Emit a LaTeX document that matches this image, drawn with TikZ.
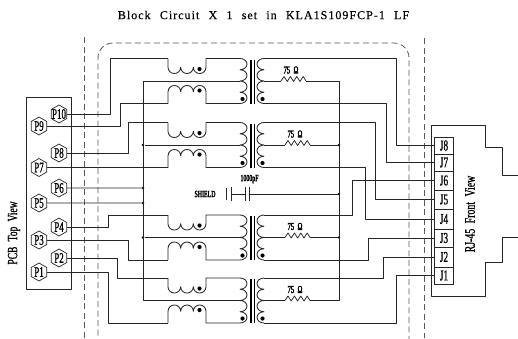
\documentclass[tikz,border=0pt]{standalone}
\usepackage{fontspec}
\setmainfont{Liberation Serif}
\newfontfamily\cadfont[FakeStretch=0.62,FakeBold=0.8]{Liberation Serif}
\newfontfamily\sidefont[FakeStretch=0.68,FakeBold=0.8,WordSpace=2.2]{Liberation Serif}
\newfontfamily\cadbold[FakeStretch=0.62,FakeBold=2.5]{Liberation Serif}
\newfontfamily\titlefont[LetterSpace=8.5,WordSpace=2.3,FakeBold=0.4]{Liberation Serif}
\usetikzlibrary{shapes}

\tikzset{
  wire/.style={draw=black!85,line width=0.85pt,line join=round},
  pad/.style={regular polygon,regular polygon sides=6,shape border rotate=30,draw=black!85,
              line width=0.7pt,inner sep=-3pt,minimum size=18pt,font=\cadfont\fontsize{14.5}{15}\selectfont},
  jack/.style={draw=black!85,line width=0.85pt,inner sep=0pt,minimum width=18.5pt,font=\cadfont\fontsize{15}{15}\selectfont},
  dot/.style={circle,fill=black,inner sep=0pt,minimum size=2.6pt},
  blob/.style={circle,fill=black,inner sep=0pt,minimum size=4.2pt},
  fence/.style={draw=black!65,line width=0.85pt,dash pattern=on 6pt off 3.5pt},
  xfmr/.pic={
    \draw[wire] (0,0) -- (0,8.7) arc (180:0:6.33) arc (180:0:6.33) arc (180:0:6.33) -- (38,0) -- (72,0)
      arc [start angle=-90,end angle=90,x radius=7,y radius=5.625]
      arc [start angle=-90,end angle=90,x radius=7,y radius=5.625]
      arc [start angle=-90,end angle=90,x radius=7,y radius=5.625]
      arc [start angle=-90,end angle=90,x radius=7,y radius=5.625] -- (38,45) -- (38,33.3)
      arc (360:180:6.33) arc (360:180:6.33) arc (360:180:6.33) -- (0,45);
    \draw[wire] (96,0)
      arc [start angle=270,end angle=90,x radius=7,y radius=5.625]
      arc [start angle=270,end angle=90,x radius=7,y radius=5.625]
      arc [start angle=270,end angle=90,x radius=7,y radius=5.625]
      arc [start angle=270,end angle=90,x radius=7,y radius=5.625];
    \draw[line width=1.5pt] (83,1) -- (83,45) (86.5,1) -- (86.5,45);
    \node[blob] (-d1) at (31.5,10.5) {};
    \node[blob] (-d2) at (31.5,32) {};
    \node[blob] (-d3) at (74.5,40.5) {};
    \node[blob] (-d4) at (94.5,40.5) {};
    \coordinate (-pa) at (0,0);
    \coordinate (-pb) at (0,45);
    \coordinate (-ct) at (72,22.5);
    \coordinate (-st) at (96,22.5);
    \coordinate (-sa) at (96,0);
    \coordinate (-sb) at (96,45);
  },
  ohms/.pic={
    \draw[wire,line width=0.75pt] (0,0) -- (3,-4.5) -- (6.2,0.5) -- (9.4,-4.5) -- (12.6,0.5)
      -- (15.8,-4.5) -- (19,0.5) -- (22.2,-4.5) -- (25,0);
    \node[font=\cadbold\fontsize{10.5}{11}\selectfont] (-val) at (10,-11) {75\,\,Ω};
    \coordinate (-a) at (0,0);
    \coordinate (-b) at (25,0);
  },
}

\begin{document}
\begin{tikzpicture}[x=1pt,y=-1pt]
  \useasboundingbox (0,0) rectangle (518,338);
  \clip (0,0) rectangle (518,338);

  \node (title) at (263.5,15) {\titlefont\fontsize{12}{12}\selectfont Block Circuit X 1 set in KLA1S109FCP-1 LF};

  \draw[fence] (84,37) -- (84,338);
  \draw[fence] (424,38) -- (424,338);
  \draw[fence,rounded corners=15pt] (98,345) -- (98,43) -- (409,43) -- (409,345);

  \draw[wire] (26,97) rectangle (71.5,289);
  \node[rotate=90,font=\sidefont\fontsize{14}{14}\selectfont] (pcb) at (14,233) {PCB Top View};

  \node[pad] (p10) at (59,114)   {P10};
  \node[pad] (p9)  at (39,126)   {P9};
  \node[pad] (p8)  at (59,153)   {P8};
  \node[pad] (p7)  at (39,167.5) {P7};
  \node[pad] (p6)  at (59,188)   {P6};
  \node[pad] (p5)  at (39,203)   {P5};
  \node[pad] (p4)  at (59,227)   {P4};
  \node[pad] (p3)  at (39,240)   {P3};
  \node[pad] (p2)  at (59,258)   {P2};
  \node[pad] (p1)  at (39,272)   {P1};

  \draw[wire] (518,175.5) -- (502,175.5) -- (502,147) -- (485.5,147) -- (485.5,125) -- (431,125) -- (431,296)
              -- (485.5,296) -- (485.5,262.5) -- (502,262.5) -- (502,237) -- (518,237);
  \node[rotate=90,font=\sidefont\fontsize{14.5}{15}\selectfont] (rjview) at (470,214) {RJ-45 Front View};

  \node[jack,minimum height=17pt] (j8) at (444,145.5) {J8};
  \node[jack,minimum height=17pt] (j7) at (444,162.5) {J7};
  \node[jack,minimum height=19pt] (j6) at (444,180.5) {J6};
  \node[jack,minimum height=19pt] (j5) at (444,199.5) {J5};
  \node[jack,minimum height=20pt] (j4) at (444,219)   {J4};
  \node[jack,minimum height=18pt] (j3) at (444,238)   {J3};
  \node[jack,minimum height=20pt] (j2) at (444,257)   {J2};
  \node[jack,minimum height=17pt] (j1) at (444,275.5) {J1};

  \pic (t1) at (168,58.5) {xfmr};
  \pic (t2) at (168,122.5) {xfmr};
  \pic (t3) at (168,215) {xfmr};
  \pic (t4) at (168,278) {xfmr};

  \pic (r1) at (281,81) {ohms};
  \pic (r2) at (285,145) {ohms};
  \pic (r3) at (285,237.5) {ohms};
  \pic (r4) at (285,300.5) {ohms};

  \node[dot] (d1) at (143,145)   {};
  \node[dot] (d2) at (143,188)   {};
  \node[dot] (d3) at (143,203)   {};
  \node[dot] (d4) at (143,237.5) {};
  \node[dot] (e1) at (339,145)   {};
  \node[dot] (e2) at (339,194)   {};
  \node[dot] (e3) at (339,237.5) {};

  \draw[wire] (p10) -| (110,58.5) -- (t1-pa);
  \draw[wire] (p9)  -| (120,103.5) -- (t1-pb);
  \draw[wire] (p8)  -| (128,122.5) -- (t2-pa);
  \draw[wire] (p7)  -- (t2-pb);
  \draw[wire] (p6)  -- (d2);
  \draw[wire] (p5)  -- (d3);
  \draw[wire] (p4)  -| (108,215) -- (t3-pa);
  \draw[wire] (p3)  -| (128,260) -- (t3-pb);
  \draw[wire] (p2)  -| (117,278) -- (t4-pa);
  \draw[wire] (p1)  -| (108,323) -- (t4-pb);

  \draw[wire] (t1-ct) -| (143,300.5) -- (t4-ct);
  \draw[wire] (t2-ct) -- (d1);
  \draw[wire] (t3-ct) -- (d4);

  \draw[wire] (t1-st) -- (r1-a);
  \draw[wire] (t2-st) -- (r2-a);
  \draw[wire] (t3-st) -- (r3-a);
  \draw[wire] (t4-st) -- (r4-a);
  \draw[wire] (r1-b) -| (339,300.5) -- (r4-b);
  \draw[wire] (r2-b) -- (e1);
  \draw[wire] (r3-b) -- (e3);

  \draw[wire] (t1-sa) -| (396,145.5) -- (j8.west);
  \draw[wire] (t1-sb) -| (386,162.5) -- (j7.west);
  \draw[wire] (t2-sa) -| (375,199.5) -- (j5.west);
  \draw[wire] (t2-sb) -| (365,219) -- (j4.west);
  \draw[wire] (t3-sa) -| (352,180.5) -- (j6.west);
  \draw[wire] (t3-sb) -| (368,238) -- (j3.west);
  \draw[wire] (t4-sa) -| (383,257) -- (j2.west);
  \draw[wire] (t4-sb) -| (396,275.5) -- (j1.west);

  \node[font=\cadbold\fontsize{9.5}{10}\selectfont] (shield) at (205,194) {SHIELD};
  \node[font=\cadbold\fontsize{9.5}{10}\selectfont] (capval) at (249.5,179) {1000pF};
  \draw[wire] (226,188) -- (226,200) (231,187) -- (231,201) (245,187) -- (245,201) (249,187) -- (249,201);
  \draw[wire] (231,194) -- (245,194) (249,194) -- (e2);
\end{tikzpicture}
\end{document}
